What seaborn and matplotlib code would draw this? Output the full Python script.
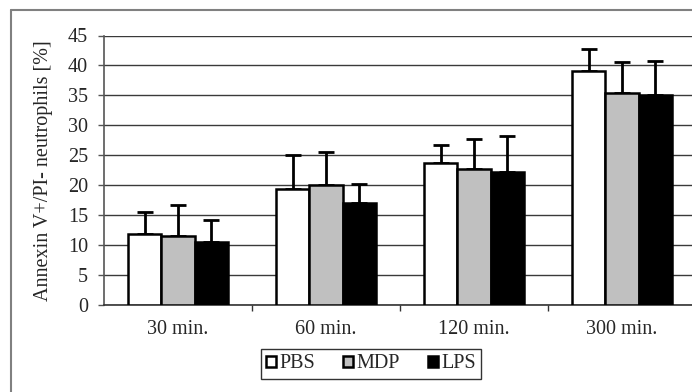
import numpy as np
import pandas as pd
import matplotlib
matplotlib.use("Agg")
import matplotlib.pyplot as plt
from matplotlib.patches import Patch
from matplotlib.lines import Line2D
import seaborn as sns

categories = ["30 min.", "60 min.", "120 min.", "300 min."]
groups = ["PBS", "MDP", "LPS"]
pbs = [11.8, 19.4, 23.7, 39.1]
mdp = [11.5, 20.1, 22.7, 35.4]
lps = [10.5, 17.0, 22.2, 35.1]
pbs_err = [3.7, 5.6, 3.0, 3.7]
mdp_err = [5.2, 5.5, 5.1, 5.2]
lps_err = [3.7, 3.2, 6.1, 5.7]
yticks = [0, 5, 10, 15, 20, 25, 30, 35, 40, 45]
ylabel = "Annexin V+/PI- neutrophils [%]"

colors = {"PBS": "#ffffff", "MDP": "#c0c0c0", "LPS": "#000000"}

df = pd.DataFrame({
    "time": categories * 3,
    "group": ["PBS"] * 4 + ["MDP"] * 4 + ["LPS"] * 4,
    "value": pbs + mdp + lps,
})

sns.set_theme(style="white")
plt.rcParams["font.family"] = ["Liberation Serif", "DejaVu Serif"]

FS = 14.5

fig = plt.figure(figsize=(6.92, 3.92), dpi=100)
ax = fig.add_axes([104 / 692, (392 - 305) / 392, 592 / 692, 269.5 / 392])

sns.barplot(data=df, x="time", y="value", hue="group", order=categories,
            hue_order=groups, palette=colors, width=0.676, errorbar=None,
            edgecolor="black", linewidth=1.8, saturation=1, ax=ax, legend=False,
            zorder=3)

# error bars (upper only)
for gi, (errs, vals) in enumerate(zip([pbs_err, mdp_err, lps_err], [pbs, mdp, lps])):
    cont = ax.containers[gi]
    xs = [p.get_x() + p.get_width() / 2 for p in cont.patches]
    ax.errorbar(xs, vals, yerr=[np.zeros(len(errs)), errs], fmt="none",
                ecolor="black", elinewidth=2.0, capsize=5.5, capthick=2.0, zorder=2)

ax.set_ylim(0, 45)
ax.set_xlim(-0.5, 3.5)
ax.set_yticks(yticks)
ax.yaxis.grid(True, color="#3a3a3a", linewidth=1.0)
ax.set_axisbelow(True)
ax.xaxis.grid(False)

for s in ["top", "right"]:
    ax.spines[s].set_visible(False)
ax.spines["left"].set_color("#555555")
ax.spines["left"].set_linewidth(1.2)
ax.spines["bottom"].set_color("#333333")
ax.spines["bottom"].set_linewidth(1.2)

ax.tick_params(axis="y", which="major", direction="out", length=4.5, width=1,
               color="#555555", labelsize=FS, pad=7, left=True)
ax.set_xticks(range(len(categories)))
ax.set_xticklabels(categories)
ax.tick_params(axis="x", which="major", length=0, labelsize=FS, pad=11)
ax.set_xticks([0.5, 1.5, 2.5, 3.5], minor=True)
ax.tick_params(axis="x", which="minor", direction="out", length=4, width=1,
               color="#333333", bottom=True)

ax.set_xlabel("")
ax.set_ylabel(ylabel, fontsize=FS)
ax.yaxis.set_label_coords((53 - 104) / 592, 0.5)

handles = [Patch(facecolor=colors[g], edgecolor="black", linewidth=1.8, label=g) for g in groups]
leg = fig.legend(handles=handles, loc="center", bbox_to_anchor=(371 / 692, (392 - 364) / 392),
                 ncol=3, frameon=True, fontsize=FS, handlelength=0.5, handleheight=0.5,
                 handletextpad=0.15, columnspacing=1.4, borderpad=0.25, fancybox=False,
                 borderaxespad=0)
leg.get_frame().set_edgecolor("black")
leg.get_frame().set_linewidth(1.0)

# outer frame (left and top visible)
fig.add_artist(Line2D([11 / 692, 11 / 692], [0, (392 - 10) / 392], transform=fig.transFigure,
                      color="#808080", linewidth=1.5))
fig.add_artist(Line2D([11 / 692, 1], [(392 - 10) / 392, (392 - 10) / 392], transform=fig.transFigure,
                      color="#808080", linewidth=1.5))

fig.savefig("out.png", dpi=100)
